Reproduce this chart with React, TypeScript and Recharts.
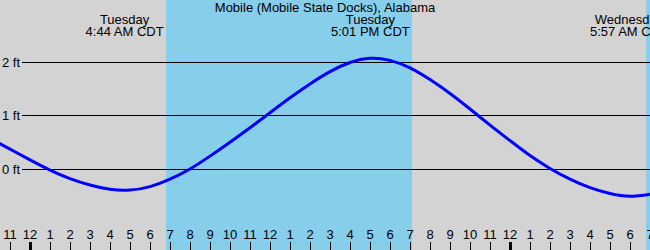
import { ComposedChart, Line, XAxis, YAxis, ReferenceArea, ReferenceLine, Scatter } from "recharts";

const FONT = '"Liberation Sans", Arial, Helvetica, sans-serif';
const GRAY = "#d3d3d3";
const SKY = "#87ceeb";

// hours from local midnight Tuesday, tide height in feet
const hours = [-2, -1, 0, 1, 2, 3, 4, 5, 6, 7, 8, 9, 10, 11, 12, 13, 14, 15, 16, 17, 18, 19, 20, 21, 22, 23, 24, 25, 26, 27, 28, 29, 30, 31];
const tideFt = [0.58, 0.38, 0.18, -0.01, -0.17, -0.29, -0.37, -0.385, -0.32, -0.18, 0.01, 0.25, 0.51, 0.78, 1.06, 1.34, 1.6, 1.83, 2.0, 2.08, 2.04, 1.9, 1.68, 1.42, 1.13, 0.83, 0.54, 0.26, 0.02, -0.18, -0.34, -0.45, -0.5, -0.46];

const hourTicks = [-1, 0, 1, 2, 3, 4, 5, 6, 7, 8, 9, 10, 11, 12, 13, 14, 15, 16, 17, 18, 19, 20, 21, 22, 23, 24, 25, 26, 27, 28, 29, 30, 31];
const hourLabels = ["11", "12", "1", "2", "3", "4", "5", "6", "7", "8", "9", "10", "11", "12", "1", "2", "3", "4", "5", "6", "7", "8", "9", "10", "11", "12", "1", "2", "3", "4", "5", "6", "7"];
const midnightHours = [0, 24];

const depthTicks = [0, 1, 2];
const depthLabels = ["0 ft", "1 ft", "2 ft"];

const extremeHours = [4.73, 17.02, 29.95];
const extremeDays = ["Tuesday", "Tuesday", "Wednesday"];
const extremeTimes = ["4:44 AM CDT", "5:01 PM CDT", "5:57 AM CDT"];

const sunrise = [6.8, 30.8];
const sunset = [19.1, 31];

const X_MIN = -1.5;
const X_MAX = 31;
const Y_MIN = -1.5047;
const Y_MAX = 3.1682;

const tideData = hours.map((h, i) => ({ h, ft: tideFt[i] }));
const extremeData = extremeHours.map((h, i) => ({ h, y: Y_MAX, day: extremeDays[i], time: extremeTimes[i] }));
const hourData = hourTicks.map((h, i) => ({ h, y: Y_MIN, label: hourLabels[i], thick: midnightHours.includes(h) }));
const depthData = depthTicks.map((v, i) => ({ h: X_MIN, y: v, label: depthLabels[i] }));

function HourTick(props: any) {
  const { cx, payload } = props;
  return (
    <g>
      <text x={cx} y={239} textAnchor="middle" fontSize={13} fontFamily={FONT} fill="#000">
        {payload.label}
      </text>
      <line x1={cx + 0.5} x2={cx + 0.5} y1={242} y2={250} stroke="#000" strokeWidth={payload.thick ? 3 : 1} />
    </g>
  );
}

function DepthTick(props: any) {
  const { cy, payload } = props;
  return (
    <text x={2} y={cy + 4.5} textAnchor="start" fontSize={13} fontFamily={FONT} fill="#000">
      {payload.label}
    </text>
  );
}

function ExtremeLabel(props: any) {
  const { cx, payload } = props;
  return (
    <g fontSize={13} fontFamily={FONT} fill="#000" textAnchor="middle">
      <text x={cx} y={24}>{payload.day}</text>
      <text x={cx} y={36}>{payload.time}</text>
    </g>
  );
}

export default function App() {
  return (
    <div style={{ position: "absolute", left: 0, top: 0, width: 650, height: 250, background: GRAY, overflow: "hidden" }}>
      <ComposedChart width={650} height={250} data={tideData} margin={{ top: 0, right: 0, bottom: 0, left: 0 }}>
        <XAxis dataKey="h" type="number" domain={[X_MIN, X_MAX]} allowDataOverflow hide />
        <YAxis type="number" domain={[Y_MIN, Y_MAX]} allowDataOverflow hide />
        {sunrise.map((s, i) => (
          <ReferenceArea key={`day${i}`} x1={s} x2={sunset[i]} fill={SKY} fillOpacity={1} stroke="none" />
        ))}
        {depthTicks.map((v) => (
          <ReferenceLine
            key={`ft${v}`}
            segment={[{ x: -0.4, y: v }, { x: X_MAX, y: v }]}
            stroke="#000"
            strokeWidth={1}
            shapeRendering="crispEdges"
          />
        ))}
        <Line type="natural" dataKey="ft" stroke="#0000ff" strokeWidth={3} dot={false} isAnimationActive={false} />
        <Scatter data={depthData} dataKey="y" shape={<DepthTick />} isAnimationActive={false} />
        <Scatter data={hourData} dataKey="y" shape={<HourTick />} isAnimationActive={false} />
        <Scatter data={extremeData} dataKey="y" shape={<ExtremeLabel />} isAnimationActive={false} />
      </ComposedChart>
      <div
        style={{
          position: "absolute",
          left: 0,
          top: 1,
          width: 650,
          textAlign: "center",
          fontFamily: FONT,
          fontSize: 13,
          lineHeight: "13px",
          color: "#000",
          pointerEvents: "none",
        }}
      >
        Mobile (Mobile State Docks), Alabama
      </div>
    </div>
  );
}
